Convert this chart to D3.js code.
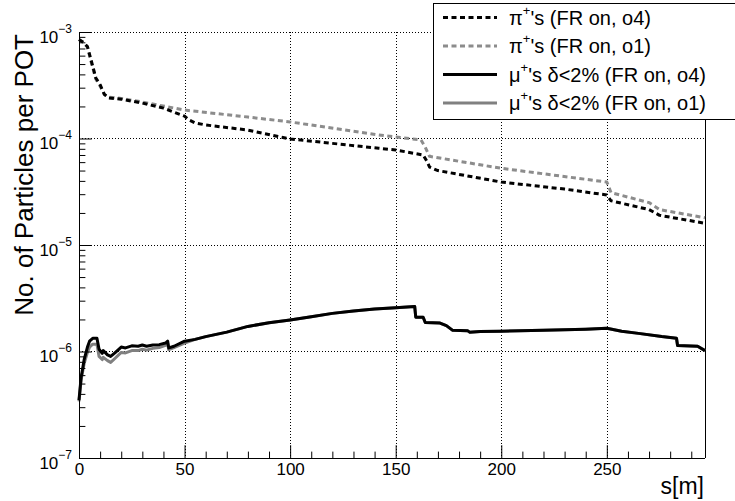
<!DOCTYPE html>
<html><head><meta charset="utf-8">
<script src="https://cdn.jsdelivr.net/npm/d3@7"></script>
<style>
html,body{margin:0;padding:0;background:#fff;}
svg{display:block;font-family:"Liberation Sans",Arial,Helvetica,sans-serif;}
</style></head>
<body>
<svg id="c" width="735" height="501"></svg>
<script>
// ---- data ----
const xTicks = [0, 50, 100, 150, 200, 250];
const yDecades = [1e-7, 1e-6, 1e-5, 1e-4, 1e-3];
const yExponents = ["−7", "−6", "−5", "−4", "−3"];

const sPiO4 = [0,2,4,6,8,10,12,14,20,30,40,50,52,55,60,80,100,120,142,150,163,165,166,170,200,230,250,252,270,275,296.5];
const piO4  = [8.5e-4,8.0e-4,7.3e-4,5.2e-4,3.7e-4,3.2e-4,2.6e-4,2.4e-4,2.34e-4,2.15e-4,1.93e-4,1.62e-4,1.5e-4,1.4e-4,1.34e-4,1.2e-4,9.9e-5,9.0e-5,8.1e-5,7.8e-5,7.0e-5,6.0e-5,5.4e-5,5.0e-5,3.9e-5,3.35e-5,2.95e-5,2.6e-5,2.15e-5,1.9e-5,1.6e-5];

const sPiO1 = [0,2,4,6,8,10,12,14,20,30,50,80,100,142,162,164,166,200,250,252,270,275,296.5];
const piO1  = [8.5e-4,8.0e-4,7.2e-4,5.0e-4,3.6e-4,3.1e-4,2.6e-4,2.45e-4,2.38e-4,2.2e-4,1.85e-4,1.59e-4,1.43e-4,1.08e-4,9.7e-5,8.3e-5,6.8e-5,5.25e-5,3.9e-5,3.1e-5,2.5e-5,2.15e-5,1.8e-5];

const sMu = [0,1,2.5,4,5,6.5,8.5,9.5,11,11.5,13.5,15,17,20,22,25,28,30,32,35,38,41,42,42.5,45,50,55,60,70,80,90,100,110,120,130,140,150,159,159.5,163,164,171,174,177,184,185,190,200,220,240,250,257,265,276,283,283.5,293,296.5];
const muO4 = [3.5e-7,5.7e-7,8.5e-7,1.1e-6,1.25e-6,1.33e-6,1.33e-6,1.05e-6,9.6e-7,1.02e-6,9.3e-7,9.0e-7,9.7e-7,1.1e-6,1.08e-6,1.13e-6,1.12e-6,1.15e-6,1.12e-6,1.15e-6,1.16e-6,1.2e-6,1.25e-6,1.08e-6,1.12e-6,1.25e-6,1.3e-6,1.38e-6,1.52e-6,1.72e-6,1.86e-6,1.98e-6,2.12e-6,2.28e-6,2.4e-6,2.5e-6,2.58e-6,2.65e-6,2.1e-6,2.1e-6,1.87e-6,1.85e-6,1.75e-6,1.58e-6,1.57e-6,1.52e-6,1.54e-6,1.55e-6,1.58e-6,1.62e-6,1.65e-6,1.55e-6,1.48e-6,1.38e-6,1.33e-6,1.14e-6,1.12e-6,1.02e-6];
const muO1 = [3.4e-7,5.4e-7,7.8e-7,9.8e-7,1.1e-6,1.17e-6,1.17e-6,9.0e-7,8.4e-7,8.8e-7,8.2e-7,7.9e-7,8.6e-7,9.8e-7,9.7e-7,1.02e-6,1.02e-6,1.05e-6,1.03e-6,1.07e-6,1.09e-6,1.14e-6,1.19e-6,1.04e-6,1.09e-6,1.2e-6,1.3e-6,1.38e-6,1.52e-6,1.72e-6,1.86e-6,1.98e-6,2.12e-6,2.28e-6,2.4e-6,2.5e-6,2.58e-6,2.65e-6,2.1e-6,2.1e-6,1.87e-6,1.85e-6,1.75e-6,1.58e-6,1.57e-6,1.52e-6,1.54e-6,1.55e-6,1.58e-6,1.62e-6,1.65e-6,1.55e-6,1.48e-6,1.38e-6,1.33e-6,1.14e-6,1.12e-6,1.02e-6];

const seriesNames = ["π", "π", "μ", "μ"];
const seriesTexts = ["'s (FR on, o4)", "'s (FR on, o1)", "'s δ<2% (FR on, o4)", "'s δ<2% (FR on, o1)"];

// ---- layout ----
const L = 79, R = 705, T = 32, B = 458;
const svg = d3.select("#c");
const x = d3.scaleLinear().domain([0, 296.5]).range([L, R]);
const y = d3.scaleLog().domain([1e-7, 1e-3]).range([B, T]);

// grid
const grid = svg.append("g").attr("stroke", "#000").attr("stroke-width", 1).attr("stroke-dasharray", "1,2");
grid.selectAll("line.gx").data(xTicks.slice(1)).enter().append("line")
  .attr("x1", d => Math.round(x(d)) + 0.5).attr("x2", d => Math.round(x(d)) + 0.5)
  .attr("y1", T).attr("y2", B);
grid.selectAll("line.gy").data(yDecades.slice(1)).enter().append("line")
  .attr("y1", d => Math.round(y(d)) + 0.5).attr("y2", d => Math.round(y(d)) + 0.5)
  .attr("x1", L).attr("x2", R);

// right frame line
svg.append("line").attr("x1", R + 0.5).attr("x2", R + 0.5).attr("y1", T).attr("y2", B)
  .attr("stroke", "#000").attr("stroke-width", 1);

// curves
const toPts = (s, v) => s.map((d, i) => [d, v[i]]);
const line = d3.line().x(d => x(d[0])).y(d => y(d[1]));
const curves = [
  {pts: toPts(sMu, muO1), color: "#808080", dash: null},
  {pts: toPts(sMu, muO4), color: "#000", dash: null},
  {pts: toPts(sPiO1, piO1), color: "#8c8c8c", dash: "5,3.5"},
  {pts: toPts(sPiO4, piO4), color: "#000", dash: "5,3.5"}
];
const cg = svg.append("g");
curves.forEach(c => {
  cg.append("path").attr("d", line(c.pts)).attr("fill", "none")
    .attr("stroke", c.color).attr("stroke-width", 3)
    .attr("stroke-linejoin", "round")
    .attr("stroke-dasharray", c.dash);
});

// axes
const xAxis = d3.axisBottom(x).tickValues(xTicks).tickSizeInner(-12.8).tickSizeOuter(0).tickPadding(5);
const gx = svg.append("g").attr("transform", `translate(0,${B})`).call(xAxis);
gx.select(".domain").attr("d", `M${L},0.5H${R}`);
gx.selectAll("text").attr("font-size", 17).attr("fill", "#000").attr("font-family", "Liberation Sans, Arial, sans-serif");
const xMinor = d3.range(0, 297, 10).filter(d => d % 50 !== 0);
svg.append("g").attr("transform", `translate(0,${B})`)
  .call(d3.axisBottom(x).tickValues(xMinor).tickSizeInner(-6.4).tickSizeOuter(0).tickFormat(""))
  .select(".domain").remove();

const yAxis = d3.axisLeft(y).tickValues(yDecades).tickSizeInner(-12.8).tickSizeOuter(0).tickFormat("");
const gy = svg.append("g").attr("transform", `translate(${L},0)`).call(yAxis);
gy.select(".domain").attr("d", `M0.5,${T}V${B}`);
gy.selectAll(".tick").each(function(d, i) {
  const t = d3.select(this).append("text").attr("x", -7).attr("y", 10)
    .attr("text-anchor", "end").attr("fill", "#000")
    .attr("font-family", "Liberation Sans, Arial, sans-serif");
  t.append("tspan").attr("font-size", 17).text("10");
  t.append("tspan").attr("font-size", 12).attr("dy", -10).text(yExponents[i]);
});
const yMinor = [];
yDecades.slice(0, 4).forEach(dd => { for (let k = 2; k <= 9; k++) yMinor.push(dd * k); });
svg.append("g").attr("transform", `translate(${L},0)`)
  .call(d3.axisLeft(y).tickValues(yMinor).tickSizeInner(-6.4).tickSizeOuter(0).tickFormat(""))
  .select(".domain").remove();

// titles
svg.append("text").attr("transform", `translate(33,34) rotate(-90)`)
  .attr("text-anchor", "end").attr("font-size", 26).attr("fill", "#000")
  .text("No. of Particles per POT");
svg.append("text").attr("x", 704).attr("y", 494).attr("text-anchor", "end")
  .attr("font-size", 23).attr("fill", "#000").text("s[m]");

// legend
const lg = svg.append("g");
lg.append("rect").attr("x", 433.5).attr("y", 3.5).attr("width", 320).attr("height", 116)
  .attr("fill", "#fff").attr("stroke", "#000").attr("stroke-width", 1);
const legendStyles = [
  {color: "#000", dash: "5,3.5"},
  {color: "#8c8c8c", dash: "5,3.5"},
  {color: "#000", dash: null},
  {color: "#808080", dash: null}
];
seriesNames.forEach((nm, i) => {
  const cy = 3 + 14.5 + 28.5 * i;
  lg.append("line").attr("x1", 443).attr("x2", 497).attr("y1", cy).attr("y2", cy)
    .attr("stroke", legendStyles[i].color).attr("stroke-width", 3)
    .attr("stroke-dasharray", legendStyles[i].dash);
  const t = lg.append("text").attr("x", 509).attr("y", cy + 7).attr("font-size", 20).attr("fill", "#000");
  t.append("tspan").text(nm);
  t.append("tspan").attr("font-size", 13).attr("dy", -10).text("+");
  t.append("tspan").attr("dy", 10).text(seriesTexts[i]);
});
</script>
</body></html>
